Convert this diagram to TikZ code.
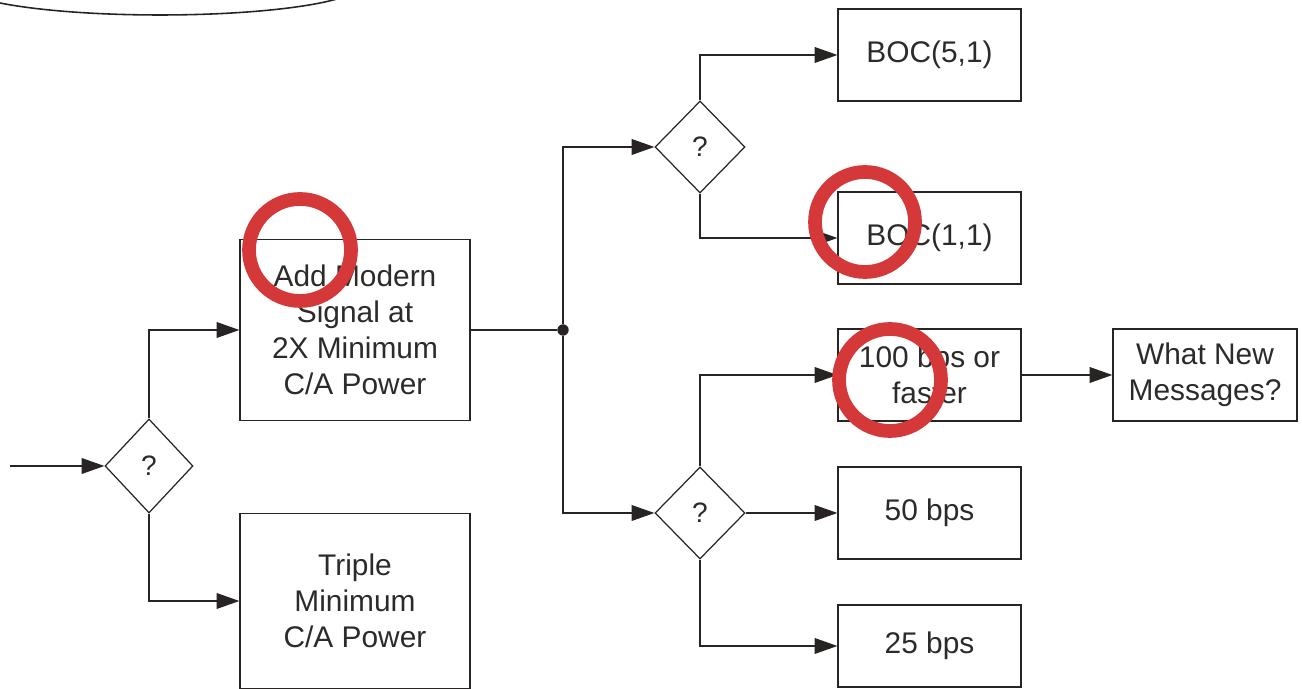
\documentclass[tikz,border=0pt]{standalone}
\usepackage{fontspec}
\setmainfont{Liberation Sans}
\usetikzlibrary{shapes.geometric,arrows.meta}
\definecolor{linegray}{RGB}{40,36,36}
\definecolor{textgray}{RGB}{45,42,42}
\definecolor{markred}{RGB}{212,56,56}
\begin{document}
\begin{tikzpicture}[
  line width=0.7pt, draw=linegray,
  box/.style={draw=linegray, text=textgray, align=center, inner sep=0pt, font=\fontsize{17}{20.5}\selectfont, minimum width=3.66cm, minimum height=1.84cm},
  bigbox/.style={box, minimum width=4.6cm, minimum height=3.62cm},
  ask/.style={diamond, draw=linegray, text=textgray, inner sep=0pt, minimum width=1.8cm, minimum height=1.84cm, font=\fontsize{16}{19}\selectfont},
  flow/.style={-{Triangle[length=13pt,width=9pt]}},
  ring/.style={draw=markred, line width=7.8pt}
]
\useasboundingbox (0,0) rectangle (26.04,13.78);
\begin{scope}
\clip (0,0) rectangle (26.04,13.78);
\draw[line width=0.9pt] (3.2,14.08) ellipse (4.0cm and 0.6cm);
\end{scope}

\coordinate (in) at (0.2,4.46);
\node[ask, minimum width=1.76cm, minimum height=1.88cm] (q1) at (2.98,4.46) {?};
\node[bigbox] (modern) at (7.10,7.18) {Add Modern\\ Signal at\\ 2X Minimum\\ C/A Power};
\node[bigbox, minimum height=3.5cm] (triple) at (7.10,1.76) {Triple\\ Minimum\\ C/A Power};
\draw[flow] (in) -- (q1.west);
\draw[flow] (q1.north) |- (modern.west);
\draw[flow] (q1.south) |- (triple.west);

\node[circle, fill=linegray, inner sep=0pt, minimum size=6.5pt] (join) at (11.26,7.18) {};
\draw (modern.east) -- (join);

\node[ask] (q2) at (14.00,10.84) {?};
\node[ask] (q3) at (14.00,3.52) {?};
\draw[flow] (join) |- (q2.west);
\draw[flow] (join) |- (q3.west);

\node[box] (boc51) at (18.59,12.68) {BOC(5,1)};
\node[box] (boc11) at (18.59,9.02) {BOC(1,1)};
\node[box] (bps100) at (18.59,6.28) {100 bps or\\ faster};
\node[box] (bps50) at (18.59,3.52) {50 bps};
\node[box, minimum height=1.64cm] (bps25) at (18.59,0.86) {25 bps};
\node[box, minimum width=3.68cm] (msgs) at (24.10,6.28) {What New\\ Messages?};

\draw[flow] (q2.north) |- (boc51.west);
\draw[flow] (q2.south) |- (boc11.west);
\draw[flow] (q3.north) |- (bps100.west);
\draw[flow] (q3.east) -- (bps50.west);
\draw[flow] (q3.south) |- (bps25.west);
\draw[flow] (bps100.east) -- (msgs.west);

% red marks on top
\draw[ring] (6.00,8.78) circle (1.02cm);
\draw[ring] (17.30,9.34) circle (1.0cm);
\draw[ring] (17.80,6.18) circle (1.02cm);
\end{tikzpicture}
\end{document}
